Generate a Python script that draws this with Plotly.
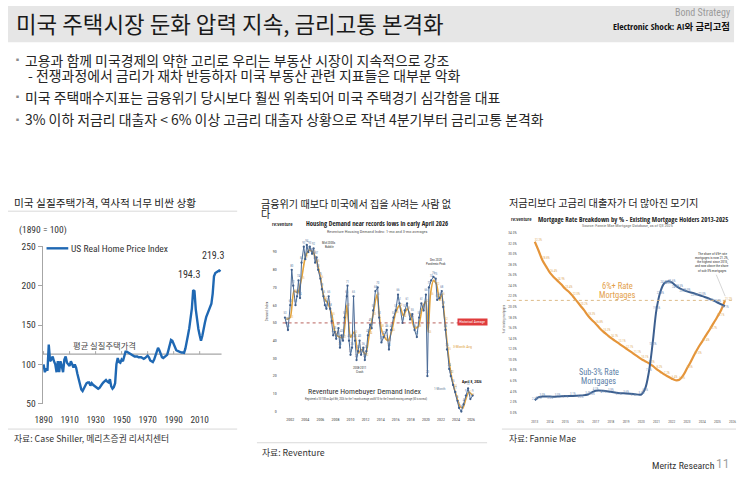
import plotly.graph_objects as go

W, H = 740, 480
def X(px): return px / W
def Y(py): return 1 - py / H

KR = "Noto Sans CJK KR, Noto Sans, sans-serif"
NARROW = "Roboto Condensed, Noto Sans CJK KR, sans-serif"
NARROWB = "Open Sans Condensed, Roboto Condensed, Noto Sans CJK KR, sans-serif"

# ---------------- data: left panel (US real home price index, 1890=100) ----------------
hpi_years = list(range(1890, 2027))
hpi_values = [
    100, 90, 95, 92, 125, 104, 106, 110, 104, 100,
    90, 104, 90, 104, 98, 90, 106, 110, 102, 100,
    98, 104, 100, 96, 100, 96, 88, 80, 72, 68,
    66, 70, 74, 76, 77, 77, 73, 76, 74, 73,
    72, 71, 69, 70, 73, 75, 77, 79, 80, 78,
    77, 81, 72, 69, 71, 76, 100, 108, 103, 102,
    106, 104, 112, 116, 116, 115, 113, 112, 111, 110,
    110, 110, 110, 109, 109, 109, 108, 107, 108, 110,
    111, 109, 105, 104, 103, 106, 112, 118, 121, 118,
    114, 109, 108, 109, 110, 112, 118, 125, 131, 130,
    126, 121, 118, 117, 116, 115.5, 115, 115, 114.6, 120,
    127, 137, 146, 158, 171, 194.3, 193, 170, 155, 145,
    137, 130, 136, 147, 153, 160, 164, 169, 173, 177,
    190, 212, 216, 217, 219, 219.3, 218,
]
hpi_avg = 113
hpi_xticks = [1890, 1910, 1930, 1950, 1970, 1990, 2010]
hpi_yticks = [50, 100, 150, 200, 250]

# ---------------- data: middle panel (Reventure homebuyer demand index) ----------------
rv_1m_x = [2001.3, 2001.5, 2001.7, 2002.0, 2002.2, 2002.4, 2002.7, 2002.9, 2003.1, 2003.3,
           2003.5, 2003.8, 2004.0, 2004.2, 2004.4, 2004.6, 2004.9, 2005.1, 2005.3, 2005.5,
           2005.7, 2006.0, 2006.2, 2006.4, 2006.6, 2006.8, 2007.1, 2007.3, 2007.5, 2007.7,
           2007.9, 2008.1, 2008.4, 2008.6, 2008.8, 2009.0, 2009.2, 2009.5, 2009.6, 2009.8,
           2010.0, 2010.2, 2010.4, 2010.6, 2010.8, 2011.0, 2011.2, 2011.4, 2011.7, 2011.9,
           2012.1, 2012.3, 2012.6, 2012.8, 2013.0, 2013.3, 2013.6, 2013.8, 2014.1, 2014.4,
           2014.8, 2015.1, 2015.4, 2015.7, 2016.0, 2016.3, 2016.5, 2016.9, 2017.2, 2017.5,
           2017.9, 2018.2, 2018.5, 2018.8, 2019.1, 2019.4, 2019.7, 2020.0, 2020.2, 2020.4,
           2020.7, 2021.0, 2021.3, 2021.5, 2021.8, 2022.1, 2022.3, 2022.6, 2022.8, 2023.1,
           2023.3, 2023.6, 2023.9, 2024.2, 2024.4, 2024.7, 2025.0, 2025.3, 2025.6, 2025.9,
           2026.2]
rv_1m_y = [53, 50, 46, 60, 80, 71, 60, 65, 74, 64,
           84, 93, 86, 94, 90, 93, 89, 92, 84, 87,
           80, 75, 69, 65, 60, 58, 65, 58, 51, 43,
           45, 41, 47, 36, 43, 40, 53, 65, 71, 40,
           32, 36, 65, 40, 29, 34, 40, 32, 36, 29,
           34, 43, 49, 47, 57, 68, 70, 53, 39, 42,
           46, 35, 46, 53, 57, 66, 61, 50, 57, 61,
           52, 55, 46, 42, 53, 61, 57, 66, 20, 70,
           74, 76, 75, 63, 64, 68, 59, 46, 35, 24,
           20, 15, 11, 6, 2, 0, 4, 9, 13, 7,
           9]
rv_3m_x = [2001.5, 2002.0, 2002.5, 2003.0, 2003.5, 2004.0, 2004.5, 2005.0, 2005.5, 2006.0,
           2006.5, 2007.0, 2007.5, 2008.0, 2008.5, 2009.0, 2009.5, 2010.0, 2010.5, 2011.0,
           2011.5, 2012.0, 2012.5, 2013.0, 2013.5, 2014.0, 2014.5, 2015.0, 2015.5, 2016.0,
           2016.5, 2017.0, 2017.5, 2018.0, 2018.5, 2019.0, 2019.5, 2020.0, 2020.3, 2020.6,
           2021.0, 2021.4, 2021.8, 2022.1, 2022.5, 2022.9, 2023.3, 2023.7, 2024.1, 2024.5,
           2024.9, 2025.3, 2025.7, 2026.2]
rv_3m_y = [52, 53, 68, 67, 75, 87, 91, 90, 85, 76,
           64, 61, 55, 44, 42, 42, 60, 42, 45, 33,
           35, 32, 44, 55, 66, 48, 42, 40, 46, 56,
           60, 54, 58, 54, 47, 48, 58, 62, 45, 66,
           74, 72, 63, 66, 52, 35, 22, 14, 8, 3,
           2, 7, 11, 9]
rv_hist_avg = 50
rv_xticks = list(range(2002, 2027, 2))
rv_yticks = list(range(0, 91, 10))

# ---------------- data: right panel (mortgage rate breakdown, % of holders) ----------------
mg6_x = [2013.0, 2013.25, 2013.5, 2013.75, 2014.0, 2014.25, 2014.5, 2014.75, 2015.0, 2015.25,
         2015.5, 2015.75, 2016.0, 2016.25, 2016.5, 2016.75, 2017.0, 2017.25, 2017.5, 2017.75,
         2018.0, 2018.25, 2018.5, 2018.75, 2019.0, 2019.25, 2019.5, 2019.75, 2020.0, 2020.25,
         2020.5, 2020.75, 2021.0, 2021.25, 2021.5, 2021.75, 2022.0, 2022.25, 2022.5, 2022.75,
         2023.0, 2023.25, 2023.5, 2023.75, 2024.0, 2024.25, 2024.5, 2024.75, 2025.0, 2025.25,
         2025.5]
mg6_y = [32.3, 30.6, 28.8, 27.6, 26.4, 25.6, 24.9, 24.2, 23.4, 22.8,
         22.0, 21.1, 20.2, 19.3, 18.3, 17.5, 16.8, 16.0, 15.3, 14.7,
         14.1, 13.6, 13.1, 12.6, 12.1, 11.6, 11.1, 10.6, 10.1, 9.7,
         9.3, 8.8, 8.2, 7.7, 7.2, 6.8, 6.4, 6.1, 6.2, 7.0,
         8.3, 9.6, 11.0, 12.3, 13.4, 14.6, 15.7, 16.9, 18.1, 19.4,
         21.2]
mg3_x = [2013.0, 2013.25, 2013.5, 2014.0, 2014.5, 2015.0, 2015.5, 2016.0, 2016.5, 2016.75,
         2017.0, 2017.5, 2018.0, 2018.5, 2019.0, 2019.5, 2020.0, 2020.25, 2020.5, 2020.75,
         2021.0, 2021.25, 2021.5, 2021.75, 2022.0, 2022.25, 2022.5, 2022.75, 2023.0, 2023.5,
         2024.0, 2024.5, 2025.0, 2025.5]
mg3_y = [2.3, 2.9, 3.0, 3.0, 3.0, 3.1, 3.1, 3.2, 3.4, 3.8,
         4.1, 4.1, 3.9, 3.7, 3.6, 3.5, 3.4, 4.5, 7.7, 13.2,
         19.5, 22.8, 24.4, 24.8, 24.6, 24.0, 23.5, 23.2, 22.9, 22.5,
         22.0, 21.5, 20.8, 20.1]
mg_xticks = list(range(2013, 2027))
mg_yticks = list(range(0, 35, 2))

# ---------------- figure ----------------
fig = go.Figure()

BLUE = "#1f68b3"
fig.add_trace(go.Scatter(x=hpi_years, y=hpi_values, mode="lines",
                         line=dict(color=BLUE, width=2.4), xaxis="x", yaxis="y",
                         showlegend=False, hoverinfo="skip"))

# middle
fig.add_trace(go.Scatter(x=rv_3m_x, y=rv_3m_y, mode="lines+text",
                         line=dict(color="#e3a33b", width=1.6, shape="spline", smoothing=0.6),
                         text=[f"{v:.0f}" for v in rv_3m_y], textposition="middle right",
                         textfont=dict(size=3, color="#e6b25c", family=NARROW),
                         xaxis="x2", yaxis="y2", showlegend=False, hoverinfo="skip"))
fig.add_trace(go.Scatter(x=rv_1m_x, y=rv_1m_y, mode="lines+markers+text",
                         line=dict(color="#4a6a96", width=1.0),
                         marker=dict(size=2.3, color="#3f5f8c"),
                         text=[f"{v:.0f}" for v in rv_1m_y], textposition="top center",
                         textfont=dict(size=3, color="#5d7ba3", family=NARROW),
                         xaxis="x2", yaxis="y2", showlegend=False, hoverinfo="skip"))

# right
pos6 = ["top right" if i % 2 == 0 else "bottom left" for i in range(len(mg6_y))]
fig.add_trace(go.Scatter(x=mg6_x, y=mg6_y, mode="lines+text",
                         line=dict(color="#e5953a", width=2.2, shape="spline"),
                         text=[f"{v:.1f}%" if i % 2 == 0 else "" for i, v in enumerate(mg6_y)],
                         textposition=pos6,
                         textfont=dict(size=3, color="#e0ad68", family=NARROW),
                         xaxis="x3", yaxis="y3", showlegend=False, hoverinfo="skip"))
pos3 = ["top center" if i % 2 == 0 else "bottom center" for i in range(len(mg3_y))]
fig.add_trace(go.Scatter(x=mg3_x, y=mg3_y, mode="lines+text",
                         line=dict(color="#3c5f8f", width=2.0, shape="spline"),
                         text=[f"{v:.1f}%" for v in mg3_y], textposition=pos3,
                         textfont=dict(size=3, color="#6f8db4", family=NARROW),
                         xaxis="x3", yaxis="y3", showlegend=False, hoverinfo="skip"))

shapes = []
ann = []

def text(px, py, s, size=12, color="#222", family=KR, xanchor="left", yanchor="middle",
         bold=False, **kw):
    if bold:
        s = f"<b>{s}</b>"
    ann.append(dict(x=X(px), y=Y(py), xref="paper", yref="paper", text=s, showarrow=False,
                    xanchor=xanchor, yanchor=yanchor,
                    font=dict(size=size, color=color, family=family), **kw))

def hline(x0, x1, py, color="#d9d9d9", width=1):
    shapes.append(dict(type="line", xref="paper", yref="paper", x0=X(x0), x1=X(x1),
                       y0=Y(py), y1=Y(py), line=dict(color=color, width=width)))

# title bar
shapes.append(dict(type="rect", xref="paper", yref="paper", x0=0, x1=X(735), y0=Y(37), y1=1,
                   fillcolor="#e6e6e6", line=dict(width=0), layer="below"))
text(6, 17, "미국 주택시장 둔화 압력 지속, 금리고통 본격화", size=22.4, color="#1a1a1a")
text(733, 7, "Bond Strategy", size=10, color="#9a9a9a", family=NARROW, xanchor="right")
text(733, 21, "Electronic Shock: AI와 금리고점", size=9.4, color="#111111", family=NARROWB,
     xanchor="right", bold=True)

# bullets
bullets = [
    (55, True, "고용과 함께 미국경제의 약한 고리로 우리는 부동산 시장이 지속적으로 강조"),
    (71, False, " - 전쟁과정에서 금리가 재차 반등하자 미국 부동산 관련 지표들은 대부분 악화"),
    (93, True, "미국 주택매수지표는 금융위기 당시보다 훨씬 위축되어 미국 주택경기 심각함을 대표"),
    (116, True, "3% 이하 저금리 대출자 < 6% 이상 고금리 대출자 상황으로 작년 4분기부터 금리고통 본격화"),
]
for py, sq, s in bullets:
    if sq:
        text(3, py, "▪", size=9, color="#8c8c8c")
    text(15, py, s.replace("<", "&lt;"), size=13.9, color="#262626")

# panel titles / separators / sources
text(4, 201, "미국 실질주택가격, 역사적 너무 비싼 상황", size=10.7, color="#222")
hline(0, 232, 210)
text(254, 202, "금융위기 때보다 미국에서 집을 사려는 사람 없", size=10.1, color="#222")
text(254, 212, "다", size=10.1, color="#222")
text(505, 201, "저금리보다 고금리 대출자가 더 많아진 모기지", size=10.2, color="#222")

hline(0, 232, 433)
hline(252, 485, 447)
hline(500, 737, 433)
text(4, 443, "자료: Case Shiller, 메리츠증권 리서치센터", size=8.8, color="#333")
text(255, 457, "자료: Reventure", size=8.8, color="#333")
text(505, 443, "자료: Fannie Mae", size=8.8, color="#333")

text(718, 470, "Meritz Research", size=9.8, color="#333", family=NARROW, xanchor="right")
text(733, 469, "11", size=12, color="#a0a0a0", family="Roboto, sans-serif", xanchor="right")

# ---- left chart decorations
text(9, 229, "(1890 = 100)", size=9.5, color="#333", family=NARROW)
shapes.append(dict(type="line", xref="paper", yref="paper", x0=X(39), x1=X(61),
                   y0=Y(248), y1=Y(248), line=dict(color=BLUE, width=2.4)))
text(62, 248, "US Real Home Price Index", size=9.5, color="#333", family=NARROW)
shapes.append(dict(type="line", xref="x", yref="y", x0=hpi_years[0] - 0.8,
                   x1=hpi_years[-1] + 0.8, y0=hpi_avg, y1=hpi_avg,
                   line=dict(color="#a6a6a6", width=1.2), layer="below"))
for t in hpi_xticks:
    shapes.append(dict(type="line", xref="x", yref="y", ysizemode="pixel", yanchor=hpi_avg,
                       x0=t, x1=t, y0=0, y1=3, line=dict(color="#a6a6a6", width=1),
                       layer="below"))
ann.append(dict(x=1937, y=hpi_avg, xref="x", yref="y", text="평균 실질주택가격",
                showarrow=False, yanchor="bottom", yshift=1, xanchor="center",
                font=dict(size=8.3, color="#444", family=KR)))
i_peak = max(range(len(hpi_years)), key=lambda i: hpi_values[i] if hpi_years[i] < 2010 else 0)
i_max = max(range(len(hpi_years)), key=lambda i: hpi_values[i])
for i, dx, dy in ((i_peak, -4, 8), (i_max, -6, 8)):
    ann.append(dict(x=hpi_years[i], y=hpi_values[i], xref="x", yref="y",
                    text=f"{hpi_values[i]:.1f}", showarrow=False, yanchor="bottom",
                    yshift=dy, xshift=dx, font=dict(size=10, color="#333", family=NARROW)))

# ---- middle chart decorations
text(265, 223, "re:venture", size=5, color="#333", family=NARROWB, bold=True)
text(374, 223, "Housing Demand near records lows in early April 2026", size=6.7,
     color="#222", family=NARROWB, xanchor="center", bold=True)
text(374, 231, "Reventure Housing Demand Index: 1-mo and 3-mo averages", size=4.3,
     color="#555", family=NARROW, xanchor="center")
text(361, 395, "Reventure Homebuyer Demand Index", size=7.8, color="#333", family=NARROW,
     xanchor="center")
text(362, 402, "Registered a 10/100 on April 8th, 2026 for the 1-month average and 8/10 for the 3-month moving average (50 is normal)",
     size=2.6, color="#444", family=NARROW, xanchor="center")
text(325, 243, "Mid-2000s", size=3.2, color="#333", family=NARROW, xanchor="center")
text(325, 247, "Bubble", size=3.2, color="#333", family=NARROW, xanchor="center")
text(433, 260, "Dec 2020", size=3.2, color="#333", family=NARROW, xanchor="center")
text(433, 264, "Pandemic Peak", size=3.2, color="#333", family=NARROW, xanchor="center")
text(356, 371, "2008-2011", size=3.2, color="#333", family=NARROW, xanchor="center")
text(356, 375, "Crash", size=3.2, color="#333", family=NARROW, xanchor="center")
text(470, 384, "April 8, 2026", size=4, color="#111", family=NARROWB, xanchor="center",
     bold=True)
text(460, 348, "3-Month Avg", size=3.8, color="#e0a040", family=NARROW, xanchor="center")
text(437, 392, "1-Month", size=3.5, color="#6a7f99", family=NARROW, xanchor="center")
ann.append(dict(x=X(470), y=Y(328), xref="paper", yref="paper",
                text="Historical Average", showarrow=False, bgcolor="#e03c3c",
                font=dict(size=3.6, color="white", family=NARROW), borderpad=1.2))
shapes.append(dict(type="line", xref="x2 domain", yref="y2", x0=0, x1=1.0,
                   y0=rv_hist_avg, y1=rv_hist_avg,
                   line=dict(color="#b0504a", width=0.9, dash="dot")))

# ---- right chart decorations
text(507, 218, "re:venture", size=5, color="#333", family=NARROWB, bold=True)
text(633, 218, "Mortgage Rate Breakdown by % - Existing Mortgage Holders 2013-2025", size=6.8,
     color="#222", family=NARROWB, xanchor="center", bold=True)
text(627, 224.5, "Source: Fannie Mae Mortgage Database, as of Q3 2025", size=4.2,
     color="#666", family=NARROW, xanchor="center")
text(617, 287, "6%+ Rate", size=8.5, color="#e3a04a", family=NARROW, xanchor="center")
text(617, 296, "Mortgages", size=8.5, color="#e3a04a", family=NARROW, xanchor="center")
text(598, 375, "Sub-3% Rate", size=8.2, color="#5d80a8", family=NARROW, xanchor="center")
text(598, 384, "Mortgages", size=8.2, color="#5d80a8", family=NARROW, xanchor="center")
callout = ["The share of 6%+ rate", "mortgages is now 21.2%,", "the highest since 2015,",
           "and now above the share", "of sub-3% mortgages"]
for k, s in enumerate(callout):
    text(713, 254 + k * 4.2, s, size=3.4, color="#333", family=NARROW, xanchor="center")
shapes.append(dict(type="line", xref="paper", yref="paper", x0=X(717), x1=X(726),
                   y0=Y(275), y1=Y(297), line=dict(color="#bbbbbb", width=0.6)))
shapes.append(dict(type="line", xref="paper", yref="y3", x0=X(505), x1=X(734),
                   y0=mg6_y[-1], y1=mg6_y[-1],
                   line=dict(color="#d8b27a", width=0.9, dash="dot")))
ann.append(dict(x=X(506), y=Y(320), xref="paper", yref="paper", text="% of existing mortgages",
                textangle=-90, showarrow=False,
                font=dict(size=3, color="#555", family=NARROW)))
ann.append(dict(x=X(262), y=Y(325), xref="paper", yref="paper", text="Demand Index",
                textangle=-90, showarrow=False,
                font=dict(size=3.5, color="#555", family=NARROW)))

# ---------------- axes ----------------
ax_common = dict(showgrid=False, zeroline=False, fixedrange=True)
fig.update_layout(
    # left: px = 36 + (yr-1890)*1.317 ; value 250 -> py 246, 50 -> py 407
    xaxis=dict(domain=[X(35), X(220)], range=[1890 - 1 / 1.317, 1890 + 184 / 1.317],
               tickvals=hpi_xticks, showline=False, ticks="", anchor="y",
               tickfont=dict(size=9.3, color="#333", family=NARROW), ticklabelstandoff=9,
               **ax_common),
    yaxis=dict(domain=[Y(407), Y(246)], range=[50, 250], tickvals=hpi_yticks, anchor="x",
               showline=True, linecolor="#a6a6a6", linewidth=1, ticks="outside", ticklen=4,
               tickcolor="#a6a6a6", tickfont=dict(size=9.5, color="#333", family=NARROW),
               **ax_common),
    # middle: px = 285.7 + (yr-2002)*7.63 ; py = 415 - v*1.813
    xaxis2=dict(domain=[X(278), X(480)], range=[2002 - 7.7 / 7.63, 2002 + 194.3 / 7.63],
                tickvals=rv_xticks, anchor="y2", showline=False, ticks="",
                tickfont=dict(size=4, color="#444", family=NARROW), ticklabelstandoff=2,
                **ax_common),
    yaxis2=dict(domain=[Y(418), Y(238)], range=[(415 - 418) / 1.813, (415 - 238) / 1.813],
                tickvals=rv_yticks, anchor="x2", showline=False, ticks="",
                tickfont=dict(size=4, color="#444", family=NARROW), ticklabelstandoff=5,
                **ax_common),
    # right: px = 533.3 + (yr-2013)*15.4 ; py = 416 - v*5.41
    xaxis3=dict(domain=[X(524), X(736)], range=[2013 - 9.3 / 15.4, 2013 + 202.7 / 15.4],
                tickvals=mg_xticks, anchor="y3", showline=False, ticks="",
                tickfont=dict(size=3.5, color="#555", family=NARROW), ticklabelstandoff=2,
                **ax_common),
    yaxis3=dict(domain=[Y(420), Y(226)], range=[(416 - 420) / 5.41, (416 - 226) / 5.41],
                tickvals=mg_yticks, ticktext=[f"{v:.1f}%" for v in mg_yticks], anchor="x3",
                showline=False, ticks="", ticklabelstandoff=8,
                tickfont=dict(size=3.5, color="#555", family=NARROW), **ax_common),
)

fig.update_layout(width=W, height=H, margin=dict(l=0, r=0, t=0, b=0),
                  paper_bgcolor="white", plot_bgcolor="white",
                  shapes=shapes, annotations=ann, showlegend=False)

fig.write_html("out.html", config={"displayModeBar": False})
